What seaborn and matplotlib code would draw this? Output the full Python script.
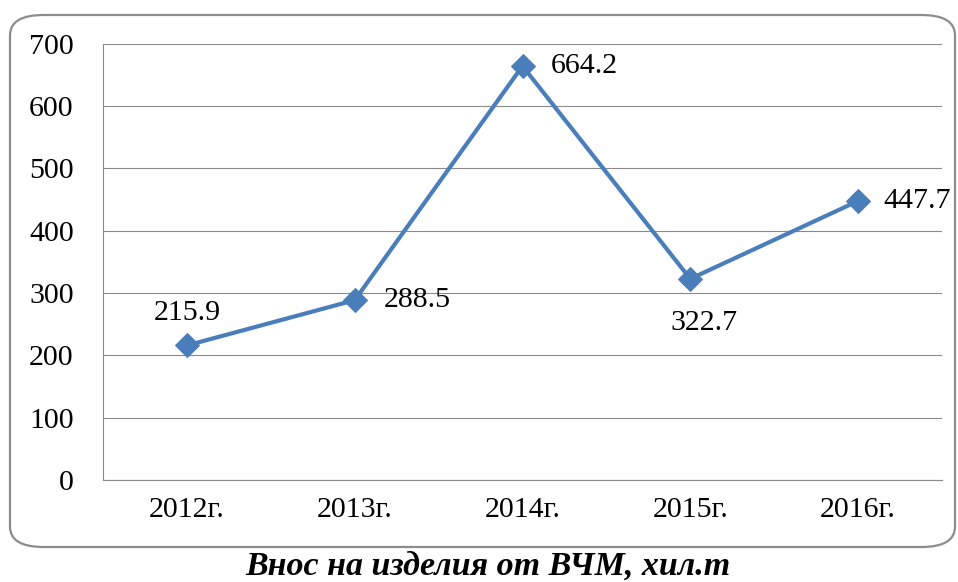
import numpy as np
import pandas as pd
import matplotlib.pyplot as plt
import seaborn as sns
from matplotlib.patches import FancyBboxPatch

# данни
godini = ['2012г.', '2013г.', '2014г.', '2015г.', '2016г.']
vnos = [215.9, 288.5, 664.2, 322.7, 447.7]
# отместване на надписите (в точки): dx, dy
etiket_dx = [0, 21, 20, 10, 18.5]
etiket_dy = [23, 0, 0, -32, 0]
etiket_ha = ['center', 'left', 'left', 'center', 'left']

df = pd.DataFrame({'x': range(len(godini)), 'Внос': vnos})

sns.set_style('white')
plt.rcParams['font.family'] = ['Liberation Serif', 'DejaVu Serif']
plt.rcParams['text.color'] = 'black'
plt.rcParams['xtick.labelcolor'] = 'black'
plt.rcParams['ytick.labelcolor'] = 'black'

fig = plt.figure(figsize=(9.58, 5.82), dpi=100)
ax = fig.add_axes([103 / 958, 1 - 480 / 582, (942 - 103) / 958, (480 - 43.7) / 582])

sivo = '#8a8a8a'
sinio = '#4A7EBB'

sns.lineplot(data=df, x='x', y='Внос', ax=ax, color=sinio, linewidth=3,
             marker='D', markersize=12, markeredgecolor=sinio, zorder=3)

for i, v in enumerate(vnos):
    ax.annotate(f'{v:.1f}', (i, v), xytext=(etiket_dx[i], etiket_dy[i]),
                textcoords='offset points', ha=etiket_ha[i], va='center',
                fontsize=21.5, color='black')

ax.set_xlim(-0.5, 4.5)
ax.set_ylim(0, 700)
ax.set_yticks(range(0, 701, 100))
ax.set_xticks(range(len(godini)))
ax.set_xticklabels(godini)
ax.set_xticks(np.arange(-0.5, 5, 1), minor=True)
ax.tick_params(axis='x', which='major', length=0, pad=12, labelsize=21.5, labelcolor='black')
ax.tick_params(axis='x', which='minor', length=6.5, width=0.8, color=sivo, direction='out')
ax.tick_params(axis='y', length=7, width=0.8, color=sivo, direction='out', pad=14,
               labelsize=21.5, labelcolor='black')
ax.yaxis.grid(True, color=sivo, linewidth=0.8)
ax.set_xlabel('')
ax.set_ylabel('')
for s in ['top', 'right']:
    ax.spines[s].set_visible(False)
for s in ['left', 'bottom']:
    ax.spines[s].set_color(sivo)
    ax.spines[s].set_linewidth(0.8)

# рамка на диаграмата
ramka = FancyBboxPatch((10 / 958, 1 - 547 / 582), (955 - 10) / 958, (547 - 15) / 582,
                       boxstyle='round,pad=0,rounding_size=0.035', transform=fig.transFigure,
                       fill=False, edgecolor='#8c8c8c', linewidth=1.6, zorder=0)
fig.patches.append(ramka)

fig.text(488 / 958, 1 - 566 / 582, 'Внос на изделия от ВЧМ, хил.т', ha='center', va='center',
         fontsize=24.5, fontweight='bold', fontstyle='italic', color='black')

plt.savefig('out.png', dpi=100)
